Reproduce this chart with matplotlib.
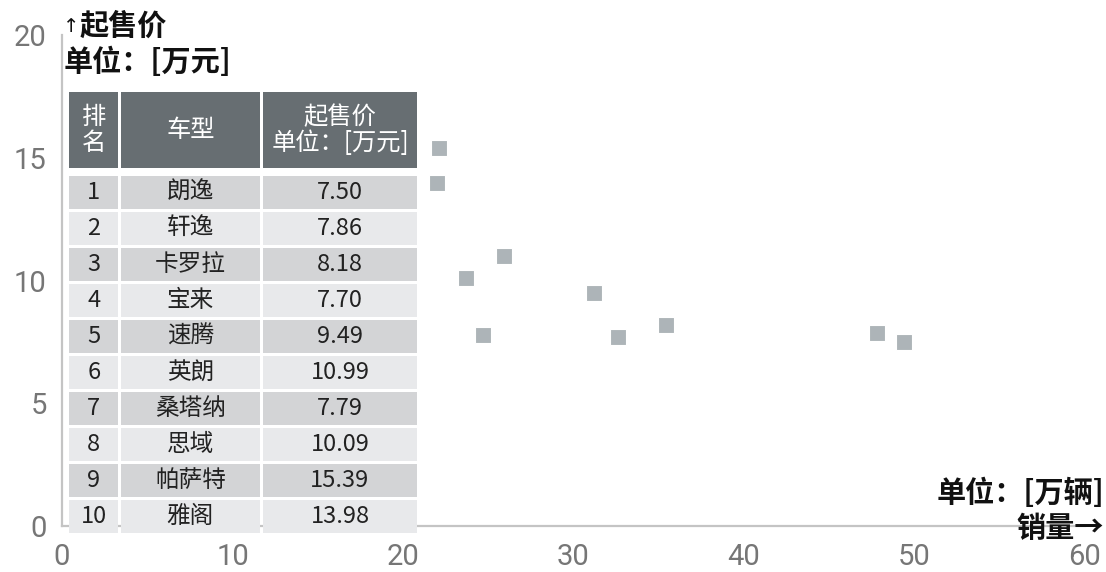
import matplotlib
matplotlib.use("Agg")
import matplotlib.pyplot as plt
from matplotlib.patches import Rectangle

plt.rcParams['font.family'] = ['Noto Sans CJK SC', 'DejaVu Sans']

# ---- data ----
ranks = [1, 2, 3, 4, 5, 6, 7, 8, 9, 10]
models = ['朗逸', '轩逸', '卡罗拉', '宝来', '速腾', '英朗', '桑塔纳', '思域', '帕萨特', '雅阁']
prices = [7.50, 7.86, 8.18, 7.70, 9.49, 10.99, 7.79, 10.09, 15.39, 13.98]
sales = [49.4, 47.8, 35.4, 32.6, 31.2, 25.9, 24.7, 23.7, 22.1, 22.0]
header = ['排\n名', '车型', '起售价\n单位：[万元]']
x_ticks = [0, 10, 20, 30, 40, 50, 60]
y_ticks = [0, 5, 10, 15, 20]

W, H = 1106, 572
fig = plt.figure(figsize=(W / 100, H / 100), dpi=100)

# main axes
ax = fig.add_axes([62 / W, (H - 526) / H, (1085 - 62) / W, (526 - 35) / H])
ax.scatter(sales, prices, marker='s', s=135, color='#adb4b8',
           edgecolors='white', linewidths=0.8, zorder=3, clip_on=False)
ax.set_xlim(0, 60)
ax.set_ylim(0, 20)
ax.set_xticks(x_ticks)
ax.set_yticks(y_ticks)
for s in ['top', 'right']:
    ax.spines[s].set_visible(False)
for s in ['left', 'bottom']:
    ax.spines[s].set_color('#c4c4c4')
    ax.spines[s].set_linewidth(1.6)
ax.tick_params(length=0, labelsize=21, labelcolor='#767676')
ax.tick_params(axis='y', pad=11)
ax.tick_params(axis='x', pad=12)
for lab in ax.get_xticklabels() + ax.get_yticklabels():
    lab.set_family(['Roboto', 'DejaVu Sans'])
    lab.set_fontweight('normal')

# axis titles
fig.text(63 / W, 1 - 26 / H, '↑', ha='left', va='center',
         fontsize=14, fontweight='normal', color='#111111',
         family=['DejaVu Sans'])
fig.text(80 / W, 1 - 26 / H, '起售价', ha='left', va='center',
         fontsize=21, fontweight='bold', color='#111111')
fig.text(64 / W, 1 - 62 / H, '单位：[万元]', ha='left', va='center',
         fontsize=21, fontweight='bold', color='#111111')
fig.text(1104 / W, 1 - 493 / H, '单位：[万辆]', ha='right', va='center',
         fontsize=21, fontweight='bold', color='#111111')
fig.text(1104 / W, 1 - 528 / H, '销量→', ha='right', va='center',
         fontsize=21, fontweight='bold', color='#111111')

# table overlay (pixel-like coordinates)
tl, tt, tr, tb = 69, 92, 417, 536
tax = fig.add_axes([tl / W, (H - tb) / H, (tr - tl) / W, (tb - tt) / H])
tax.set_xlim(0, tr - tl)
tax.set_ylim(tb - tt, 0)
tax.axis('off')

col_edges = [(0, 49.5), (51.8, 191), (194, 348)]
header_h = 75.5
row_top0 = 83.5
row_pitch = 36.05
row_h = 33.3
head_col = '#676e72'
odd_col = '#d3d4d6'
even_col = '#e8e9eb'

for (x0, x1), txt in zip(col_edges, header):
    tax.add_patch(Rectangle((x0, 0), x1 - x0, header_h, facecolor=head_col, edgecolor='none'))
    tax.text((x0 + x1) / 2, header_h / 2, txt, ha='center', va='center',
             color='white', fontsize=17.5, linespacing=1.0)

for i, (r, m, p) in enumerate(zip(ranks, models, prices)):
    y0 = row_top0 + i * row_pitch
    fc = odd_col if i % 2 == 0 else even_col
    vals = [str(r), m, f'{p:.2f}']
    for (x0, x1), v in zip(col_edges, vals):
        tax.add_patch(Rectangle((x0, y0), x1 - x0, row_h, facecolor=fc, edgecolor='none'))
        tax.text((x0 + x1) / 2, y0 + row_h / 2, v, ha='center', va='center',
                 color='#222222', fontsize=17)

fig.savefig('out.png', dpi=100)
